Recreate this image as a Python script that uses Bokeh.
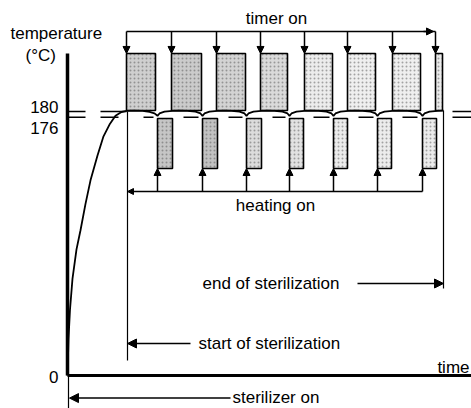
from bokeh.plotting import figure
from bokeh.models import Range1d, Arrow, NormalHead, ColumnDataSource
from bokeh.core.properties import value
from bokeh.embed import file_html
from bokeh.resources import INLINE

# ---------------- data (time in arbitrary units, temperature in °C) ----------------
setpoint_high = 180
setpoint_low = 176

curve_t = [0, 1, 2.5, 5, 9, 13, 18, 23, 30, 36, 42, 48, 54, 59, 66, 75, 82, 87, 90,
           92, 97, 105, 112, 120, 128, 133, 135,
           137, 142, 150, 157, 164, 172, 177, 179,
           181, 186, 194, 200, 207, 215, 220, 222,
           224, 229, 237, 244, 251, 259, 264, 266,
           268, 273, 281, 288, 295, 303, 308, 310,
           312, 317, 325, 332, 340, 348, 353, 355,
           357, 362, 370, 376]
curve_T = [0, 25, 45, 66, 86, 99, 117, 133, 150, 163, 171, 177, 179.6, 180.4, 180.6, 180.3, 179.7, 178.7, 177,
           178.6, 179.8, 180.4, 180.6, 180.4, 179.8, 178.6, 177,
           178.6, 179.8, 180.4, 180.6, 180.4, 179.8, 178.6, 177,
           178.6, 179.8, 180.4, 180.6, 180.4, 179.8, 178.6, 177,
           178.6, 179.8, 180.4, 180.6, 180.4, 179.8, 178.6, 177,
           178.6, 179.8, 180.4, 180.6, 180.4, 179.8, 178.6, 177,
           178.6, 179.8, 180.4, 180.6, 180.4, 179.8, 178.6, 177,
           178.6, 179.8, 180.4, 180.6]

timer_on_start = [59, 104, 149, 193, 237, 280, 325, 368]
timer_on_end = [88, 134, 178, 220, 265, 308, 353, 375]
heating_on_start = [90, 135, 179, 222, 266, 310, 355]
heating_on_end = [105, 150, 194, 236, 280, 324, 369]
sterilization_start = 60
sterilization_end = 376
y_tick_values = [0, 176, 180]
y_tick_labels = ["0", "176", "180"]

# ---------------- layout constants (diagram geometry in data units) ----------------
TIMER_TOP, TIMER_BOT = 219.5, 180.6
HEAT_TOP, HEAT_BOT = 175.2, 141.1
TIMER_BRACKET = 234.5
HEAT_BRACKET = 125.4
AXIS_TOP = 219.5
X_END = 404
FONT = value("Liberation Sans")
FS = value("17px")

p = figure(width=471, height=408, x_range=Range1d(-67, 404), y_range=Range1d(-22.5, 255.6),
           output_backend="svg", toolbar_location=None, min_border=0,
           x_axis_type=None, y_axis_type=None)
p.grid.visible = False
p.outline_line_color = None
p.background_fill_color = "white"
p.border_fill_color = "white"

# setpoint double lines (dashed pieces)
hi_segs = [(0, 18), (33, 59), (385, X_END)]
lo_segs = [(0, 18), (33, 51), (76, 86), (116, 131), (161, 175), (205, 218), (246, 262),
           (291, 306), (335, 350), (385, X_END)]
p.segment(x0=[a for a, b in hi_segs], x1=[b for a, b in hi_segs], y0=[setpoint_high] * len(hi_segs),
          y1=[setpoint_high] * len(hi_segs), line_color="black", line_width=1.5)
p.segment(x0=[a for a, b in lo_segs], x1=[b for a, b in lo_segs], y0=[setpoint_low] * len(lo_segs),
          y1=[setpoint_low] * len(lo_segs), line_color="black", line_width=1.5)

# timer-on blocks
timer_fill = ["#cfcfcf", "#cbcbcb", "#d3d3d3", "#dadada", "#ececec", "#efefef", "#efefef", "#ebebeb"]
p.quad(left=timer_on_start, right=timer_on_end, top=[TIMER_TOP] * len(timer_on_start),
       bottom=[TIMER_BOT] * len(timer_on_start), fill_color=timer_fill, line_color="black",
       line_width=1.6, hatch_pattern="dot", hatch_color="#555555", hatch_scale=4, hatch_weight=0.7,
       hatch_alpha=0.5)
# heating-on blocks
heat_fill = ["#c6c6c6", "#c2c2c2", "#dcdcdc", "#e2e2e2", "#ececec", "#ececec", "#ececec"]
p.quad(left=heating_on_start, right=heating_on_end, top=[HEAT_TOP] * len(heating_on_start),
       bottom=[HEAT_BOT] * len(heating_on_start), fill_color=heat_fill, line_color="black",
       line_width=1.6, hatch_pattern="dot", hatch_color="#555555", hatch_scale=4, hatch_weight=0.7,
       hatch_alpha=0.5)

# temperature curve
p.line(curve_t, curve_T, line_color="black", line_width=1.8)

# axes
p.segment(x0=[0], y0=[0], x1=[0], y1=[AXIS_TOP], line_color="black", line_width=3.5)
p.segment(x0=[0], y0=[0], x1=[X_END], y1=[0], line_color="black", line_width=3)


def arrows(xs, ys, xe, ye, size=7, lw=1.5):
    src = ColumnDataSource(dict(xs=xs, ys=ys, xe=xe, ye=ye))
    p.add_layout(Arrow(end=NormalHead(size=size, fill_color="black", line_color="black", line_width=1),
                       x_start="xs", y_start="ys", x_end="xe", y_end="ye", source=src,
                       line_color="black", line_width=lw))


# timer bracket
p.segment(x0=[timer_on_start[0], timer_on_start[-1] - 3], y0=[TIMER_BRACKET] * 2,
          x1=[timer_on_start[-1] - 3, timer_on_start[-1]], y1=[TIMER_BRACKET] * 2,
          line_color="black", line_width=1.5)
arrows([timer_on_start[-1] - 12], [TIMER_BRACKET], [timer_on_start[-1] - 2], [TIMER_BRACKET], size=7)
arrows(timer_on_start, [TIMER_BRACKET] * len(timer_on_start), timer_on_start,
       [TIMER_TOP] * len(timer_on_start), size=7)

# heating bracket
arrows([heating_on_start[-1]], [HEAT_BRACKET], [sterilization_start], [HEAT_BRACKET], size=6)
arrows(heating_on_start, [HEAT_BRACKET] * len(heating_on_start), heating_on_start,
       [HEAT_BOT] * len(heating_on_start), size=7)

# start / end of sterilization
p.segment(x0=[sterilization_start, sterilization_end], y0=[setpoint_high, 180.6],
          x1=[sterilization_start, sterilization_end], y1=[10.2, 59.3], line_color="black", line_width=1.2)
arrows([123], [21.8], [sterilization_start], [21.8], size=9)
arrows([290], [62.7], [sterilization_end], [62.7], size=9)

# sterilizer on
p.segment(x0=[1], y0=[0], x1=[1], y1=[-22.5], line_color="black", line_width=1.2)
arrows([163], [-15.4], [2], [-15.4], size=9)

# texts
p.text(x=[-57, -42, 131, 135, 165], y=[233, 218, 21.8, 62.7, -14.8],
       text=["temperature", "(°C)", "start of sterilization", "end of sterilization", "sterilizer on"],
       text_font=FONT, text_font_size=FS, text_align="left", text_baseline="middle", text_color="black")
p.text(x=[402], y=[5.5], text=["time"],
       text_font=FONT, text_font_size=FS, text_align="right", text_baseline="middle", text_color="black")
p.text(x=[-9, -9, -9], y=[-0.7, 169, 182.7], text=y_tick_labels,
       text_font=FONT, text_font_size=FS, text_align="right", text_baseline="middle", text_color="black")
p.text(x=[209, 208], y=[243.4, 115.9], text=["timer on", "heating on"],
       text_font=FONT, text_font_size=FS, text_align="center", text_baseline="middle", text_color="black")

open("out.html", "w").write(file_html(p, INLINE))
